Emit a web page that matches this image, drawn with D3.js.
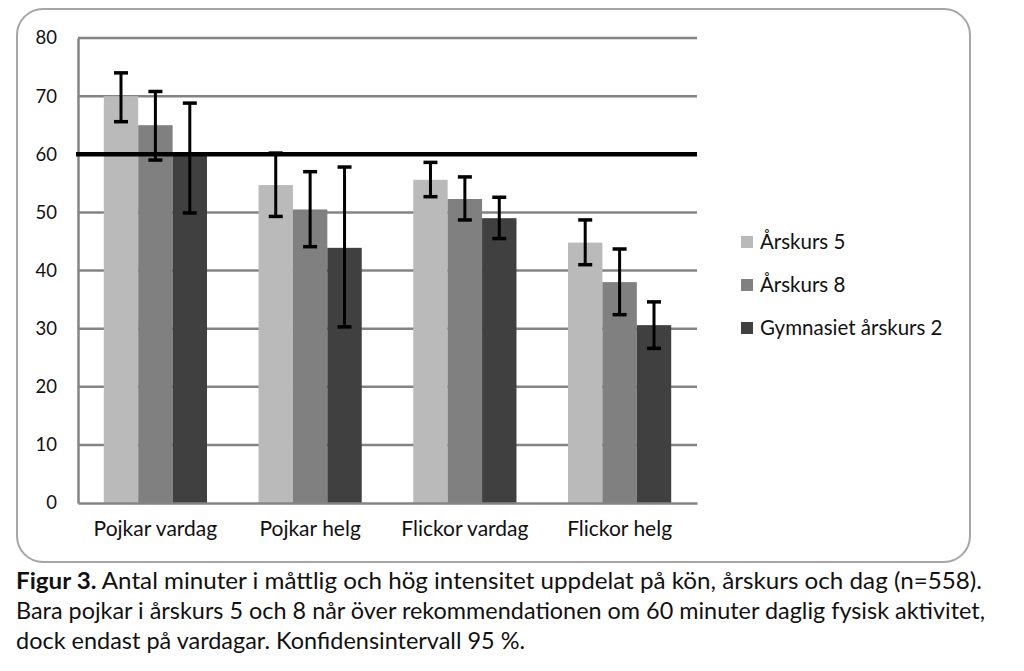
<!DOCTYPE html>
<html>
<head>
<meta charset="utf-8">
<script src="https://cdn.jsdelivr.net/npm/d3@7"></script>
<style>
  body { margin: 0; background: #fff; }
  svg { font-family: Lato, 'Open Sans', sans-serif; }
</style>
</head>
<body>
<svg id="chart" width="1024" height="671"></svg>
<script>
// Data
const categories = ['Pojkar vardag', 'Pojkar helg', 'Flickor vardag', 'Flickor helg'];
const seriesNames = ['Årskurs 5', 'Årskurs 8', 'Gymnasiet årskurs 2'];
const ak5 = [70, 54.7, 55.6, 44.8];
const ak8 = [65, 50.5, 52.3, 38.0];
const gy2 = [59.7, 43.9, 49.0, 30.6];
const ak5Low = [65.6, 49.3, 52.7, 41.0];
const ak5High = [74, 60.2, 58.6, 48.7];
const ak8Low = [59.0, 44.1, 48.7, 32.4];
const ak8High = [70.8, 57.0, 56.1, 43.7];
const gy2Low = [49.9, 30.3, 45.5, 26.6];
const gy2High = [68.8, 57.8, 52.6, 34.6];
const yTicks = [0, 10, 20, 30, 40, 50, 60, 70, 80];
const recommendation = 60;
const captionLines = [
  ['Figur 3.', ' Antal minuter i måttlig och hög intensitet uppdelat på kön, årskurs och dag (n=558).'],
  ['', 'Bara pojkar i årskurs 5 och 8 når över rekommendationen om 60 minuter daglig fysisk aktivitet,'],
  ['', 'dock endast på vardagar. Konfidensintervall 95 %.']
];
const captionWidths = [966, 969, 509];

const seriesData = [
  { key: seriesNames[0], values: ak5, low: ak5Low, high: ak5High },
  { key: seriesNames[1], values: ak8, low: ak8Low, high: ak8High },
  { key: seriesNames[2], values: gy2, low: gy2Low, high: gy2High }
];

const svg = d3.select('#chart');
const margin = { top: 38, left: 78 };
const width = 619, height = 465;
const font = "Lato, 'Open Sans', sans-serif";

const color = d3.scaleOrdinal().domain(seriesNames).range(['#bababa', '#808080', '#404040']);

// outer frame
svg.append('rect')
  .attr('x', 17).attr('y', 9)
  .attr('width', 953).attr('height', 553)
  .attr('rx', 26).attr('ry', 26)
  .attr('fill', '#fff')
  .attr('stroke', '#a6a6a6')
  .attr('stroke-width', 2);

const g = svg.append('g').attr('transform', `translate(${margin.left},${margin.top})`);

const x0 = d3.scaleBand().domain(categories).range([0, width]).paddingInner(0.333).paddingOuter(0.1667);
const x1 = d3.scaleBand().domain(seriesNames).range([0, x0.bandwidth()]);
const y = d3.scaleLinear().domain([0, 80]).range([height, 0]);

// gridlines
g.append('g')
  .selectAll('line')
  .data(yTicks.filter(d => d > 0))
  .join('line')
  .attr('x1', 0).attr('x2', width)
  .attr('y1', d => y(d)).attr('y2', d => y(d))
  .attr('stroke', '#848484')
  .attr('stroke-width', 2.5);

// y axis
const yAxis = g.append('g')
  .call(d3.axisLeft(y).tickValues(yTicks).tickSize(0).tickPadding(21))
  .attr('font-family', font);
yAxis.select('.domain').attr('stroke', '#848484').attr('stroke-width', 2.5);
yAxis.selectAll('text')
  .attr('font-size', 18.5)
  .attr('fill', '#111');

// bars
const groups = g.selectAll('.grp')
  .data(seriesData)
  .join('g')
  .attr('class', 'grp');

groups.selectAll('rect')
  .data(s => s.values.map((v, i) => ({ key: s.key, cat: categories[i], value: v })))
  .join('rect')
  .attr('x', d => x0(d.cat) + x1(d.key))
  .attr('y', d => y(d.value))
  .attr('width', x1.bandwidth())
  .attr('height', d => y(0) - y(d.value))
  .attr('fill', d => color(d.key));

// x axis
const xAxis = g.append('g')
  .attr('transform', `translate(0,${height})`)
  .call(d3.axisBottom(x0).tickSize(0).tickPadding(18))
  .attr('font-family', font);
xAxis.select('.domain').attr('stroke', '#848484').attr('stroke-width', 2.5);
xAxis.selectAll('text')
  .attr('font-size', 21)
  .attr('fill', '#111');

// recommendation line
g.append('line')
  .attr('x1', -2).attr('x2', width)
  .attr('y1', y(recommendation)).attr('y2', y(recommendation))
  .attr('stroke', '#000')
  .attr('stroke-width', 4.5);

// error bars
const errs = groups.selectAll('.err')
  .data(s => s.values.map((v, i) => ({ key: s.key, cat: categories[i], lo: s.low[i], hi: s.high[i] })))
  .join('g')
  .attr('class', 'err')
  .attr('transform', d => `translate(${x0(d.cat) + x1(d.key) + x1.bandwidth() / 2},0)`);

errs.append('line')
  .attr('y1', d => y(d.lo)).attr('y2', d => y(d.hi))
  .attr('stroke', '#000').attr('stroke-width', 3);
errs.selectAll('.cap')
  .data(d => [d.lo, d.hi])
  .join('line')
  .attr('class', 'cap')
  .attr('x1', -7).attr('x2', 7)
  .attr('y1', d => y(d)).attr('y2', d => y(d))
  .attr('stroke', '#000').attr('stroke-width', 3.5);

// legend
const legend = svg.append('g').attr('transform', 'translate(741,242)');
const items = legend.selectAll('g')
  .data(seriesNames)
  .join('g')
  .attr('transform', (d, i) => `translate(0,${i * 43})`);
items.append('rect')
  .attr('x', 0).attr('y', -6)
  .attr('width', 12).attr('height', 12)
  .attr('fill', d => color(d));
items.append('text')
  .attr('x', 19).attr('y', 0)
  .attr('dy', '0.35em')
  .attr('font-size', 20.5)
  .attr('fill', '#111')
  .text(d => d);

// caption
const caption = svg.append('g');
captionLines.forEach((ln, i) => {
  const t = caption.append('text')
    .attr('x', 16)
    .attr('y', 589 + i * 30)
    .attr('font-size', 22.5)
    .attr('fill', '#111')
    .attr('textLength', captionWidths[i])
    .attr('lengthAdjust', 'spacingAndGlyphs');
  if (ln[0]) t.append('tspan').attr('font-weight', 'bold').text(ln[0]);
  t.append('tspan').text(ln[1]);
});
</script>
</body>
</html>
